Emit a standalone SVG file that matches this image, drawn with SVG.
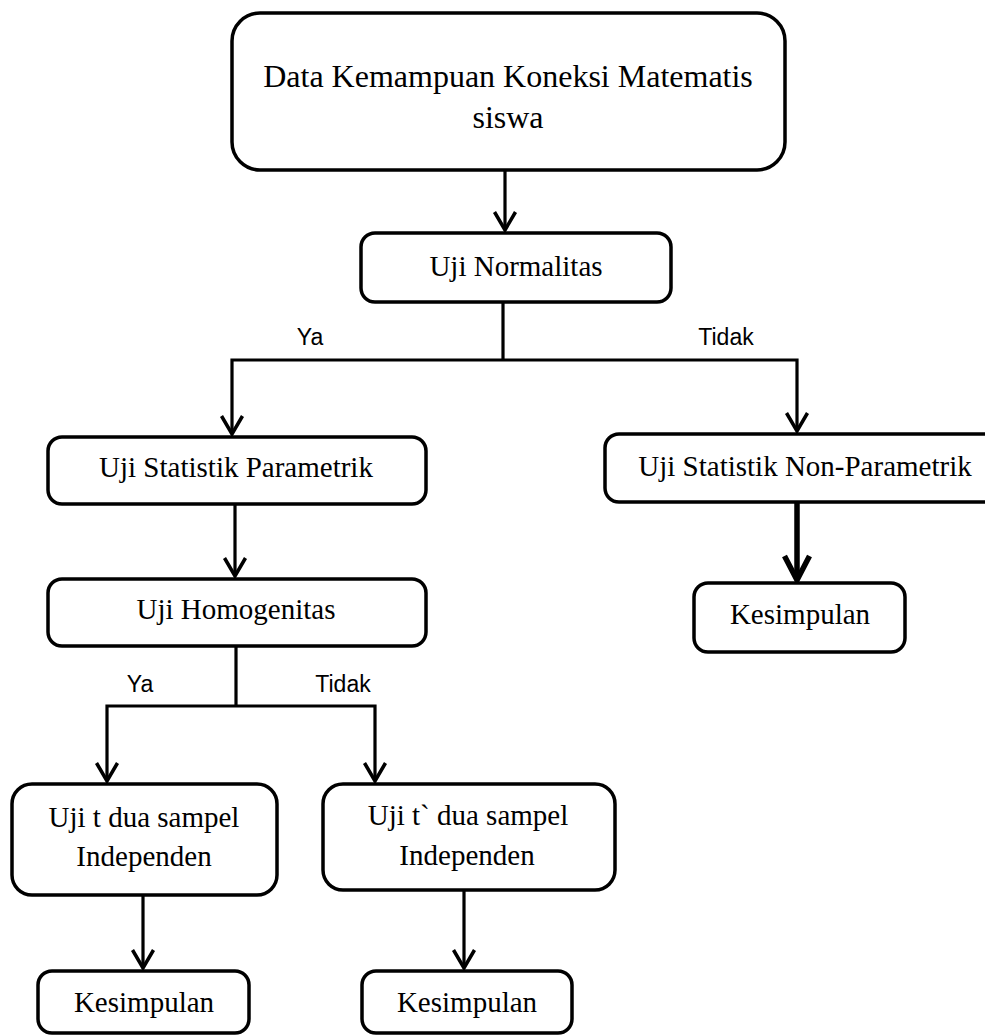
<svg xmlns="http://www.w3.org/2000/svg" width="985" height="1035" viewBox="0 0 985 1035">
<defs>
<style>
.box{fill:#fff;stroke:#000;stroke-width:3.5}
.t{font-family:"Liberation Serif","Times New Roman",serif;font-size:29px;fill:#000;text-anchor:middle}
.big{font-size:32px}
.lbl{font-family:"Liberation Sans",Arial,sans-serif;font-size:23px;fill:#000;text-anchor:middle}
.c{fill:none;stroke:#000;stroke-width:3.2}
.thick{stroke-width:5.5}
</style>
<marker id="ah" markerUnits="userSpaceOnUse" orient="auto" refX="0" refY="0" markerWidth="40" markerHeight="40" overflow="visible">
<path d="M -18 -10.5 L 0 0 L -18 10.5" fill="none" stroke="#000" stroke-width="3.5"/>
</marker>
<marker id="ahb" markerUnits="userSpaceOnUse" orient="auto" refX="0" refY="0" markerWidth="50" markerHeight="50" overflow="visible">
<path d="M -24 -12.5 L 0 0 L -24 12.5" fill="none" stroke="#000" stroke-width="5.5"/>
</marker>
</defs>
<rect width="985" height="1035" fill="#fff"/>
<g id="connectors">
<path class="c" d="M505 170 V230" marker-end="url(#ah)"/>
<path class="c" d="M503 302 V360"/>
<path class="c" d="M503 360 H232 V434" marker-end="url(#ah)"/>
<path class="c" d="M503 360 H797 V431" marker-end="url(#ah)"/>
<path class="c" d="M235 504 V576" marker-end="url(#ah)"/>
<path class="c" d="M236 646 V706"/>
<path class="c" d="M236 706 H107 V781" marker-end="url(#ah)"/>
<path class="c" d="M236 706 H375 V781" marker-end="url(#ah)"/>
<path class="c thick" d="M797 502 V580" marker-end="url(#ahb)"/>
<path class="c" d="M143 895 V968" marker-end="url(#ah)"/>
<path class="c" d="M464 890 V968" marker-end="url(#ah)"/>
<text class="lbl" x="310" y="345">Ya</text>
<text class="lbl" x="726" y="345">Tidak</text>
<text class="lbl" x="140" y="692">Ya</text>
<text class="lbl" x="343" y="692">Tidak</text>
</g>
<g id="data">
<rect class="box" x="232" y="13" width="553" height="157" rx="28"/>
<text class="t big" x="508" y="87">Data Kemampuan Koneksi Matematis</text>
<text class="t big" x="508" y="128">siswa</text>
</g>
<g id="normalitas">
<rect class="box" x="361" y="233" width="310" height="69" rx="14"/>
<text class="t" x="516" y="276">Uji Normalitas</text>
</g>
<g id="parametrik">
<rect class="box" x="48" y="437" width="378" height="67" rx="14"/>
<text class="t" x="236" y="477">Uji Statistik Parametrik</text>
</g>
<g id="nonparametrik">
<rect class="box" x="605" y="434" width="400" height="68" rx="14"/>
<text class="t" x="805" y="476">Uji Statistik Non-Parametrik</text>
</g>
<g id="kesimpulan3">
<rect class="box" x="694" y="583" width="211" height="69" rx="14"/>
<text class="t" x="800" y="624">Kesimpulan</text>
</g>
<g id="homogenitas">
<rect class="box" x="48" y="579" width="378" height="67" rx="14"/>
<text class="t" x="236" y="619">Uji Homogenitas</text>
</g>
<g id="ujit">
<rect class="box" x="12" y="784" width="265" height="111" rx="20"/>
<text class="t" x="144" y="827">Uji t dua sampel</text>
<text class="t" x="144" y="866">Independen</text>
</g>
<g id="ujit2">
<rect class="box" x="323" y="784" width="292" height="106" rx="20"/>
<text class="t" x="468" y="825">Uji t` dua sampel</text>
<text class="t" x="467" y="865">Independen</text>
</g>
<g id="kesimpulan1">
<rect class="box" x="38" y="971" width="211" height="62" rx="14"/>
<text class="t" x="144" y="1012">Kesimpulan</text>
</g>
<g id="kesimpulan2">
<rect class="box" x="362" y="971" width="210" height="62" rx="14"/>
<text class="t" x="467" y="1012">Kesimpulan</text>
</g>
</svg>
